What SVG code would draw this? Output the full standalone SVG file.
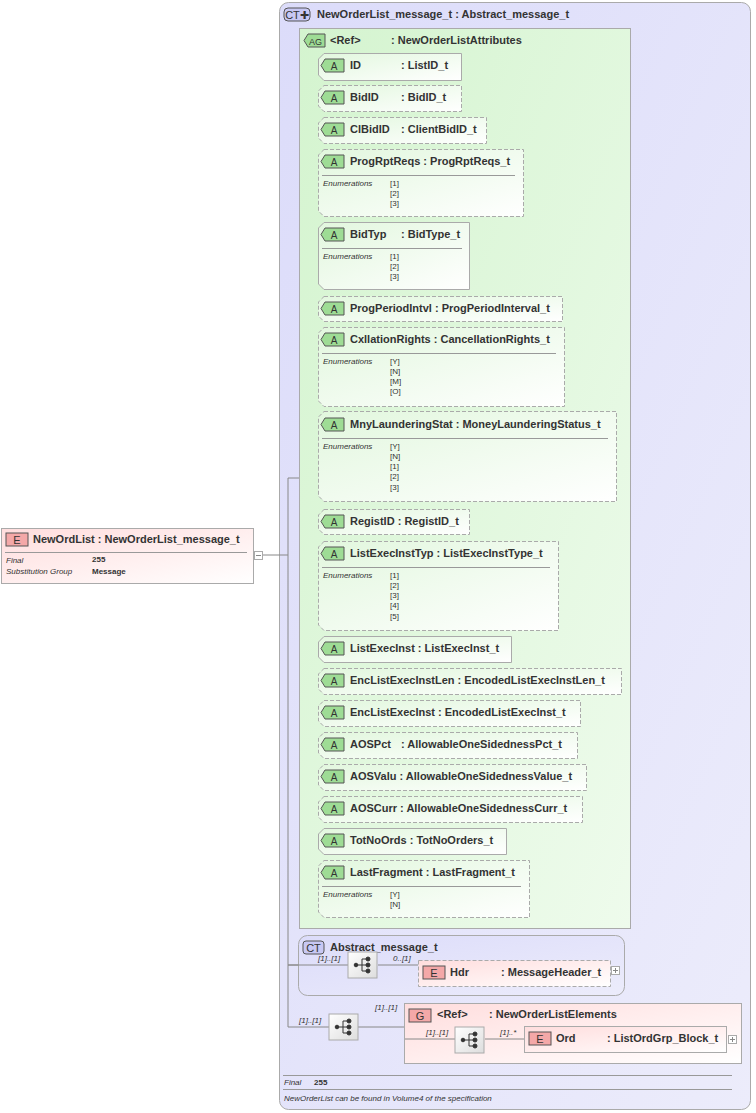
<svg xmlns="http://www.w3.org/2000/svg" width="756" height="1113" viewBox="0 0 756 1113">
<defs>
<linearGradient id="gE" x1="0" y1="0" x2="1" y2="1"><stop offset="0" stop-color="#fdd"/><stop offset="1" stop-color="#fff"/></linearGradient>
<linearGradient id="gA" x1="0" y1="0" x2="1" y2="1"><stop offset="0" stop-color="#e2f7de"/><stop offset="1" stop-color="#fff"/></linearGradient>
<linearGradient id="gAG" x1="0" y1="0" x2="1" y2="1"><stop offset="0" stop-color="#d4f4cf"/><stop offset="1" stop-color="#eefbec"/></linearGradient>
<linearGradient id="gCT" x1="0" y1="0" x2="1" y2="1"><stop offset="0" stop-color="#dcdcfa"/><stop offset="1" stop-color="#ececfb"/></linearGradient>
<linearGradient id="gS" x1="0" y1="0" x2="1" y2="1"><stop offset="0" stop-color="#fff"/><stop offset="1" stop-color="#ddd"/></linearGradient>
<g id="seq"><rect x="0" y="0" width="29" height="26" fill="url(#gS)" stroke="#aaa"/><g fill="#333" stroke="#333"><line x1="9" y1="13" x2="14" y2="13"/><line x1="14" y1="7" x2="14" y2="19"/><line x1="14" y1="7" x2="19" y2="7"/><line x1="14" y1="13" x2="19" y2="13"/><line x1="14" y1="19" x2="19" y2="19"/><circle cx="8" cy="13" r="1.8"/><circle cx="20" cy="7" r="2"/><circle cx="20" cy="13" r="2"/><circle cx="20" cy="19" r="2"/></g></g>
<g id="abadge"><path d="M5 0 H24 V13 H5 L1 6.5 Z" fill="#9edc95" stroke="#555"/><text x="14" y="10.5" font-size="10" text-anchor="middle">A</text></g>
</defs>
<style>
text{font-family:"Liberation Sans",Arial,sans-serif;fill:#333}
.n{font-size:11px;font-weight:bold}
.m{font-size:11px;font-weight:bold}
.bt{font-size:11px}
.s{font-size:8px}
.i{font-size:8px;font-style:italic}
.sb{font-size:8px;font-weight:bold}
.ln{stroke:#888;fill:none}
.abox{fill:url(#gA);stroke:#aaa}
.d{stroke-dasharray:4 2}
.sep{stroke:#999}
</style>
<g id="ct-main">
<rect x="279.5" y="2.5" width="471" height="1107" rx="9" fill="url(#gCT)" stroke="#aaa"/>
<rect x="284" y="8" width="26" height="13" rx="4" fill="#c8c8f4" stroke="#555"/><text x="297" y="18.5" class="bt" text-anchor="middle">CT✚</text>
<text x="317" y="18" class="n">NewOrderList_message_t : Abstract_message_t</text>
<line x1="283" y1="1075.5" x2="732" y2="1075.5" class="sep"/>
<text x="284" y="1085" class="i">Final</text><text x="314" y="1085" class="sb">255</text>
<line x1="283" y1="1089.5" x2="732" y2="1089.5" class="sep"/>
<text x="284" y="1101" class="i">NewOrderList can be found in Volume4 of the specification</text>
</g>
<g id="connectors">
<path class="ln" d="M263 555 H288 M288 478 V1027 M288 478 H299 M288 965 H348 M288 1027 H329 M378 965 H418 M358 1027 H404 M404 1039 H455 M485 1039 H524 M309 66 V885"/>
<path class="ln" d="M309 66 H318 M309 98 H318 M309 130 H318 M309 162 H318 M309 235 H318 M309 309 H318 M309 340 H318 M309 424 H318 M309 521 H318 M309 554 H318 M309 649 H318 M309 681 H318 M309 713 H318 M309 745 H318 M309 777 H318 M309 809 H318 M309 841 H318 M309 873 H318"/>
</g>
<g id="NewOrdList">
<rect x="1.5" y="528.5" width="252" height="55" fill="url(#gE)" stroke="#aaa"/>
<rect x="6" y="533" width="22" height="13" fill="#f4a8a8" stroke="#555"/><text x="17" y="543.5" class="bt" text-anchor="middle">E</text>
<text x="33" y="543" class="n">NewOrdList : NewOrderList_message_t</text>
<line x1="5" y1="552.5" x2="247" y2="552.5" class="sep"/>
<text x="6" y="563" class="i">Final</text><text x="92" y="562" class="sb">255</text>
<text x="6" y="574" class="i">Substitution Group</text><text x="92" y="574" class="sb">Message</text>
<rect x="254.5" y="551.5" width="8" height="8" fill="#fff" stroke="#aaa"/><line x1="256" y1="555.5" x2="261" y2="555.5" stroke="#888"/>
</g>
<g id="AG">
<rect x="299.5" y="28.5" width="331" height="900" fill="url(#gAG)" stroke="#aaa"/>
<path d="M308 34 H325 V47 H308 L304 40.5 Z" fill="#9edc95" stroke="#555"/><text x="315.5" y="44.5" font-size="9" text-anchor="middle">AG</text>
<text x="330" y="44" class="m">&lt;Ref&gt;</text><text x="391" y="44" class="m">: NewOrderListAttributes</text>
</g>
<g id="attrs">
<g id="a-ID"><path class="abox" d="M324 53.5 H461.5 V80.5 H324 L318.5 75 V59 Z"/><use href="#abadge" x="320" y="59"/><text x="350" y="69" class="m">ID</text><text x="401" y="69" class="m">: ListID_t</text></g>
<g id="a-BidID"><path class="abox d" d="M324 85.5 H461.5 V111.5 H324 L318.5 106 V91 Z"/><use href="#abadge" x="320" y="91"/><text x="350" y="101" class="m">BidID</text><text x="401" y="101" class="m">: BidID_t</text></g>
<g id="a-ClBidID"><path class="abox d" d="M324 117.5 H486.5 V143.5 H324 L318.5 138 V123 Z"/><use href="#abadge" x="320" y="123"/><text x="350" y="133" class="m">ClBidID</text><text x="401" y="133" class="m">: ClientBidID_t</text></g>
<g id="a-ProgRptReqs"><path class="abox d" d="M324 149.5 H523.5 V216.5 H324 L318.5 211 V155 Z"/><use href="#abadge" x="320" y="155"/><text x="350" y="165" class="m">ProgRptReqs : ProgRptReqs_t</text><line x1="322" y1="175.5" x2="515" y2="175.5" class="sep"/><text x="323" y="186" class="i">Enumerations</text><text x="390" y="186" class="s">[1]</text><text x="390" y="196" class="s">[2]</text><text x="390" y="206" class="s">[3]</text></g>
<g id="a-BidTyp"><path class="abox" d="M324 222.5 H469.5 V289.5 H324 L318.5 284 V228 Z"/><use href="#abadge" x="320" y="228"/><text x="350" y="238" class="m">BidTyp</text><text x="401" y="238" class="m">: BidType_t</text><line x1="322" y1="248.5" x2="462" y2="248.5" class="sep"/><text x="323" y="259" class="i">Enumerations</text><text x="390" y="259" class="s">[1]</text><text x="390" y="269" class="s">[2]</text><text x="390" y="279" class="s">[3]</text></g>
<g id="a-ProgPeriodIntvl"><path class="abox d" d="M324 296.5 H562.5 V321.5 H324 L318.5 316 V302 Z"/><use href="#abadge" x="320" y="302"/><text x="350" y="312" class="m">ProgPeriodIntvl : ProgPeriodInterval_t</text></g>
<g id="a-CxllationRights"><path class="abox d" d="M324 327.5 H564.5 V406.5 H324 L318.5 401 V333 Z"/><use href="#abadge" x="320" y="333"/><text x="350" y="343" class="m">CxllationRights : CancellationRights_t</text><line x1="322" y1="353.5" x2="556" y2="353.5" class="sep"/><text x="323" y="364" class="i">Enumerations</text><text x="390" y="364" class="s">[Y]</text><text x="390" y="374" class="s">[N]</text><text x="390" y="384" class="s">[M]</text><text x="390" y="394" class="s">[O]</text></g>
<g id="a-MnyLaunderingStat"><path class="abox d" d="M324 411.5 H616.5 V501.5 H324 L318.5 496 V417 Z"/><use href="#abadge" x="320" y="418"/><text x="350" y="428" class="m">MnyLaunderingStat : MoneyLaunderingStatus_t</text><line x1="322" y1="438.5" x2="608" y2="438.5" class="sep"/><text x="323" y="449" class="i">Enumerations</text><text x="390" y="449" class="s">[Y]</text><text x="390" y="459" class="s">[N]</text><text x="390" y="469" class="s">[1]</text><text x="390" y="479" class="s">[2]</text><text x="390" y="490" class="s">[3]</text></g>
<g id="a-RegistID"><path class="abox d" d="M324 509.5 H469.5 V534.5 H324 L318.5 529 V515 Z"/><use href="#abadge" x="320" y="515"/><text x="350" y="525" class="m">RegistID : RegistID_t</text></g>
<g id="a-ListExecInstTyp"><path class="abox d" d="M324 541.5 H558.5 V630.5 H324 L318.5 625 V547 Z"/><use href="#abadge" x="320" y="547"/><text x="350" y="557" class="m">ListExecInstTyp : ListExecInstType_t</text><line x1="322" y1="567.5" x2="550" y2="567.5" class="sep"/><text x="323" y="578" class="i">Enumerations</text><text x="390" y="578" class="s">[1]</text><text x="390" y="588" class="s">[2]</text><text x="390" y="598" class="s">[3]</text><text x="390" y="608" class="s">[4]</text><text x="390" y="619" class="s">[5]</text></g>
<g id="a-ListExecInst"><path class="abox" d="M324 636.5 H511.5 V662.5 H324 L318.5 657 V642 Z"/><use href="#abadge" x="320" y="642"/><text x="350" y="652" class="m">ListExecInst : ListExecInst_t</text></g>
<g id="a-EncListExecInstLen"><path class="abox d" d="M324 668.5 H621.5 V694.5 H324 L318.5 689 V674 Z"/><use href="#abadge" x="320" y="674"/><text x="350" y="684" class="m">EncListExecInstLen : EncodedListExecInstLen_t</text></g>
<g id="a-EncListExecInst"><path class="abox d" d="M324 700.5 H580.5 V726.5 H324 L318.5 721 V706 Z"/><use href="#abadge" x="320" y="706"/><text x="350" y="716" class="m">EncListExecInst : EncodedListExecInst_t</text></g>
<g id="a-AOSPct"><path class="abox d" d="M324 732.5 H577.5 V758.5 H324 L318.5 753 V738 Z"/><use href="#abadge" x="320" y="738"/><text x="350" y="748" class="m">AOSPct</text><text x="401" y="748" class="m">: AllowableOneSidednessPct_t</text></g>
<g id="a-AOSValu"><path class="abox d" d="M324 764.5 H586.5 V790.5 H324 L318.5 785 V770 Z"/><use href="#abadge" x="320" y="770"/><text x="350" y="780" class="m">AOSValu : AllowableOneSidednessValue_t</text></g>
<g id="a-AOSCurr"><path class="abox d" d="M324 796.5 H582.5 V822.5 H324 L318.5 817 V802 Z"/><use href="#abadge" x="320" y="802"/><text x="350" y="812" class="m">AOSCurr : AllowableOneSidednessCurr_t</text></g>
<g id="a-TotNoOrds"><path class="abox" d="M324 828.5 H506.5 V854.5 H324 L318.5 849 V834 Z"/><use href="#abadge" x="320" y="834"/><text x="350" y="844" class="m">TotNoOrds : TotNoOrders_t</text></g>
<g id="a-LastFragment"><path class="abox d" d="M324 860.5 H529.5 V917.5 H324 L318.5 912 V866 Z"/><use href="#abadge" x="320" y="866"/><text x="350" y="876" class="m">LastFragment : LastFragment_t</text><line x1="322" y1="886.5" x2="521" y2="886.5" class="sep"/><text x="323" y="897" class="i">Enumerations</text><text x="390" y="897" class="s">[Y]</text><text x="390" y="907" class="s">[N]</text></g>
</g>
<g id="ct-abstract">
<rect x="298.5" y="935.5" width="326" height="60" rx="9" fill="url(#gCT)" stroke="#aaa"/>
<rect x="303" y="941" width="21" height="13" rx="3" fill="#c8c8f4" stroke="#555"/><text x="313.5" y="951.5" class="bt" text-anchor="middle">CT</text>
<text x="330" y="951" class="m">Abstract_message_t</text>
<line x1="288" y1="965" x2="348" y2="965" class="ln"/><line x1="378" y1="965" x2="418" y2="965" class="ln"/>
<use href="#seq" x="348" y="952"/>
<text x="318" y="961" class="i">[1]..[1]</text><text x="393" y="961" class="i">0..[1]</text>
</g>
<g id="Hdr">
<rect x="418.5" y="960.5" width="192" height="26" fill="url(#gE)" stroke="#aaa" stroke-dasharray="4 2"/>
<rect x="423" y="966" width="22" height="13" fill="#f4a8a8" stroke="#555"/><text x="434" y="976.5" class="bt" text-anchor="middle">E</text>
<text x="450" y="976" class="m">Hdr</text><text x="501" y="976" class="m">: MessageHeader_t</text>
<rect x="611.5" y="966.5" width="8" height="8" fill="#fff" stroke="#aaa"/><path d="M613 970.5 H618 M615.5 968 V973" stroke="#888"/>
</g>
<g id="seq-main"><use href="#seq" x="329" y="1014"/><text x="299" y="1023" class="i">[1]..[1]</text><text x="375" y="1010" class="i">[1]..[1]</text></g>
<g id="G">
<rect x="404.5" y="1003.5" width="337" height="60" fill="url(#gE)" stroke="#aaa"/>
<rect x="409" y="1009" width="22" height="13" fill="#f4a8a8" stroke="#555"/><text x="420" y="1019.5" class="bt" text-anchor="middle">G</text>
<text x="437" y="1018" class="m">&lt;Ref&gt;</text><text x="489" y="1018" class="m">: NewOrderListElements</text>
<line x1="405" y1="1039" x2="455" y2="1039" class="ln"/><line x1="485" y1="1039" x2="524" y2="1039" class="ln"/>
<use href="#seq" x="455" y="1027"/>
<text x="426" y="1035" class="i">[1]..[1]</text><text x="500" y="1035" class="i">[1]..*</text>
</g>
<g id="Ord">
<rect x="524.5" y="1026.5" width="202" height="26" fill="url(#gE)" stroke="#aaa"/>
<rect x="529" y="1032" width="22" height="13" fill="#f4a8a8" stroke="#555"/><text x="540" y="1042.5" class="bt" text-anchor="middle">E</text>
<text x="556" y="1042" class="m">Ord</text><text x="607" y="1042" class="m">: ListOrdGrp_Block_t</text>
<rect x="728.5" y="1035.5" width="8" height="8" fill="#fff" stroke="#aaa"/><path d="M730 1039.5 H735 M732.5 1037 V1042" stroke="#888"/>
</g>
</svg>
